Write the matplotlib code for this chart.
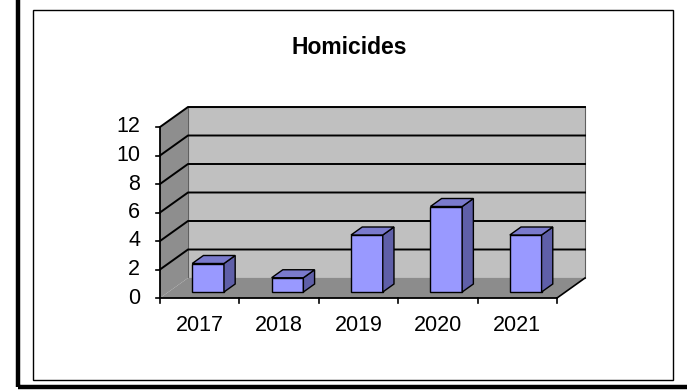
import matplotlib.pyplot as plt
from matplotlib.patches import Polygon, Rectangle
import numpy as np

plt.rcParams['font.family'] = ['Liberation Sans', 'DejaVu Sans']

years = ['2017', '2018', '2019', '2020', '2021']
homicides = [2, 1, 4, 6, 4]
yticks = [0, 2, 4, 6, 8, 10, 12]
ymax = 12

# oblique depth vector (category units, value units)
DX, DY = 0.3526, 1.4035
z0, z1 = 0.3, 0.7      # bar depth range
bw = 0.4               # bar width in category units

wall_col = '#c0c0c0'
side_col = '#8e8e8e'
floor_col = '#8c8c8c'
bar_front = '#9999ff'
bar_top = '#7a7acc'
bar_side = '#5f5fa8'


def P(x, y, z):
    return (x + z * DX, y + z * DY)


def face(ax, pts, fc, lw=1.0, ec='black', zorder=2):
    ax.add_patch(Polygon(pts, closed=True, facecolor=fc, edgecolor=ec,
                         linewidth=lw, joinstyle='miter', zorder=zorder))


fig = plt.figure(figsize=(6.87, 3.92), dpi=100)
fig.patches.append(Rectangle((17.5 / 687, 1 - 387 / 392), 1, 1, transform=fig.transFigure,
                             fill=False, edgecolor='black', linewidth=3.2))
fig.patches.append(Rectangle((32.5 / 687, 1 - 380 / 392), 640 / 687, 370 / 392,
                             transform=fig.transFigure, fill=False, edgecolor='black',
                             linewidth=1.0))

ax = fig.add_axes([0, 0, 1, 1])
ax.set_xlim(-160 / 79.4, (687 - 160) / 79.4)
ax.set_ylim(-94 / 14.25, 298 / 14.25)
ax.axis('off')

n = len(years)

# back wall, side wall, floor
face(ax, [P(0, 0, 1), P(n, 0, 1), P(n, ymax, 1), P(0, ymax, 1)], wall_col, lw=0.8, ec='#606060', zorder=1)
face(ax, [P(0, 0, 0), P(0, 0, 1), P(0, ymax, 1), P(0, ymax, 0)], side_col, lw=0, ec='none', zorder=1)
face(ax, [P(0, 0, 0), P(n, 0, 0), P(n, 0, 1), P(0, 0, 1)], floor_col, lw=0, ec='none', zorder=1)
ax.plot(*zip(P(n, 0, 0), P(n, 0, 1)), color='black', lw=1.2, zorder=1.5)

# gridlines on the walls
for v in yticks[1:]:
    ax.plot(*zip(P(0, v, 0), P(0, v, 1), P(n, v, 1)), color='black', lw=1.4,
            solid_joinstyle='miter', zorder=1.5)

# axes lines and ticks
ax.plot([0, 0], [0, ymax], color='black', lw=1.3, zorder=3)
ax.plot([0, n], [0, 0], color='black', lw=1.3, zorder=3)
for v in yticks:
    ax.plot([-0.055, 0], [v, v], color='black', lw=1.2, zorder=3)
    ax.text(-0.25, v, str(v), ha='right', va='center', fontsize=15.5)
for i in range(n + 1):
    ax.plot([i, i], [0, -0.38], color='black', lw=1.2, zorder=3)

# bars
for i, (yr, h) in enumerate(zip(years, homicides)):
    c = i + 0.5
    xl, xr = c - bw / 2, c + bw / 2
    face(ax, [P(xl, 0, z0), P(xr, 0, z0), P(xr, h, z0), P(xl, h, z0)], bar_front, zorder=4)
    face(ax, [P(xr, 0, z0), P(xr, 0, z1), P(xr, h, z1), P(xr, h, z0)], bar_side, zorder=4)
    face(ax, [P(xl, h, z0), P(xr, h, z0), P(xr, h, z1), P(xl, h, z1)], bar_top, zorder=4)
    ax.text(c, -1.96, yr, ha='center', va='center', fontsize=15.5)

fig.text(349 / 687, 1 - 47 / 392, 'Homicides', ha='center', va='center',
         fontsize=16.5, fontweight='bold')

fig.savefig('out.png', dpi=100)
